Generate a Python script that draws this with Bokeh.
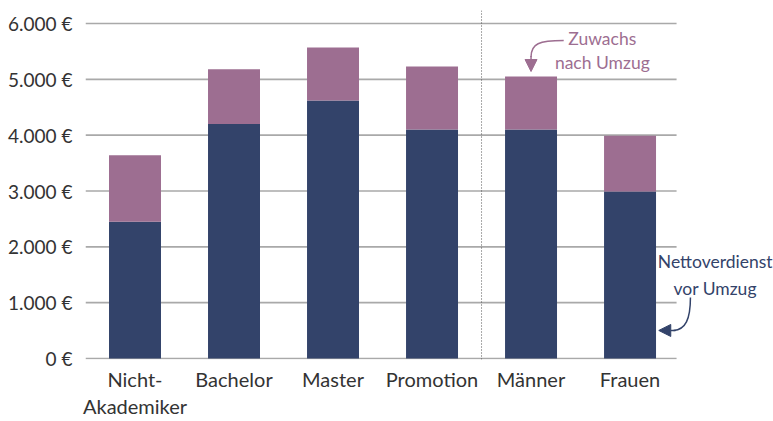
from bokeh.plotting import figure
from bokeh.models import (ColumnDataSource, Range1d, FixedTicker, Span, Label,
                          Arrow, NormalHead)
from bokeh.embed import file_html
from bokeh.resources import INLINE

# ---- data ----
categories = ["Nicht-\nAkademiker", "Bachelor", "Master", "Promotion", "Männer", "Frauen"]
vor_umzug = [2450, 4200, 4620, 4100, 4100, 2990]
zuwachs = [1190, 980, 950, 1130, 950, 1000]
ytick_values = [0, 1000, 2000, 3000, 4000, 5000, 6000]
ytick_labels = ["0 €", "1.000 €", "2.000 €", "3.000 €", "4.000 €", "5.000 €", "6.000 €"]

NAVY = "#33436a"
PURPLE = "#9d6e91"
TEXT = "#333333"
GRID = "#a9a9a9"
FONT = "Lato"

xs = list(range(len(categories)))
source = ColumnDataSource(dict(x=xs, vor=vor_umzug, zuwachs=zuwachs))

p = figure(width=773, height=421, output_backend="svg", toolbar_location=None,
           x_range=Range1d(-0.5, 6.449), y_range=Range1d(-18, 6233),
           min_border_left=85, min_border_right=0, min_border_top=10,
           min_border_bottom=62)
p.outline_line_color = None
p.xgrid.visible = False
p.ygrid.visible = False

# gridlines (behind bars)
n = len(ytick_values)
p.segment(x0=[-0.5] * n, x1=[5.47] * n, y0=ytick_values, y1=ytick_values,
          line_color=GRID, line_width=1.6, level="underlay")

p.vbar_stack(["vor", "zuwachs"], x="x", width=0.525, color=[NAVY, PURPLE],
             line_color=None, source=source)

# dotted separator
p.add_layout(Span(location=3.5, dimension="height", line_color="#555555",
                  line_width=1, line_dash="1 2"))

# axes
yax = p.yaxis[0]
yax.ticker = FixedTicker(ticks=ytick_values)
yax.major_label_overrides = {v: l for v, l in zip(ytick_values, ytick_labels)}
yax.axis_line_color = None
yax.major_tick_line_color = None
yax.minor_tick_line_color = None
yax.major_tick_out = 0
yax.major_tick_in = 0
yax.major_label_standoff = 13
yax.major_label_text_font = FONT
yax.major_label_text_font_size = "19px"
yax.major_label_text_color = TEXT

xax = p.xaxis[0]
xax.ticker = FixedTicker(ticks=xs)
xax.major_label_overrides = {i: c for i, c in zip(xs, categories)}
xax.axis_line_color = None
xax.major_tick_line_color = None
xax.minor_tick_line_color = None
xax.major_tick_out = 0
xax.major_tick_in = 0
xax.major_label_standoff = 7
xax.major_label_text_font = FONT
xax.major_label_text_font_size = "20px"
xax.major_label_text_color = TEXT
xax.major_label_text_line_height = 1.15

# annotation: Zuwachs nach Umzug
mi = 4
top_m = vor_umzug[mi] + zuwachs[mi]
p.add_layout(Label(x=4.72, y=5520, text="Zuwachs\nnach Umzug", text_align="center",
                   text_baseline="middle", text_font=FONT, text_font_size="17.5px",
                   text_color=PURPLE, text_line_height=1.12))
p.bezier(x0=[4.33], y0=[5696], cx0=[4.08], cy0=[5696], cx1=[mi], cy1=[5640],
         x1=[mi], y1=[5400], line_color=PURPLE, line_width=1.5)
p.add_layout(Arrow(x_start=mi, y_start=5420, x_end=mi, y_end=top_m + 90,
                   line_color=PURPLE, line_width=1.5,
                   end=NormalHead(size=12, fill_color=PURPLE, line_color=PURPLE)))

# annotation: Nettoverdienst vor Umzug
fi = 5
p.add_layout(Label(x=5.86, y=1490, text="Nettoverdienst\nvor Umzug", text_align="center",
                   text_baseline="middle", text_font=FONT, text_font_size="17.5px",
                   text_color=NAVY, text_line_height=1.3))
p.bezier(x0=[5.61], y0=[1093], cx0=[5.61], cy0=[700], cx1=[5.56], cy1=[520],
         x1=[5.44], y1=[502], line_color=NAVY, line_width=1.5)
p.add_layout(Arrow(x_start=5.46, y_start=502, x_end=fi + 0.29, y_end=502,
                   line_color=NAVY, line_width=1.5,
                   end=NormalHead(size=12, fill_color=NAVY, line_color=NAVY)))

open("out.html", "w").write(file_html(p, INLINE))
